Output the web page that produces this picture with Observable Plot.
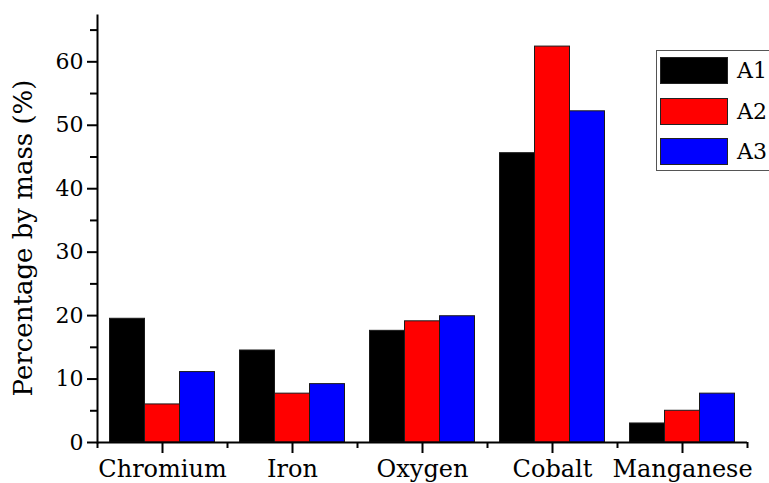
<!DOCTYPE html>
<html>
<head>
<meta charset="utf-8">
<script src="https://cdn.jsdelivr.net/npm/d3@7"></script>
<script src="https://cdn.jsdelivr.net/npm/@observablehq/plot@0.6"></script>
<style>
  html, body { margin: 0; padding: 0; background: #fff; overflow: hidden; }
  #wrap { position: relative; width: 769px; height: 483px; overflow: hidden; }
  #legend { position: absolute; left: 656px; top: 50px; width: 140px; height: 121px;
    border: 1px solid #555; box-sizing: border-box; background: #fff;
    font-family: "DejaVu Serif", serif; font-size: 22px; color: #000; }
  .row { position: absolute; left: 3px; height: 29px; display: flex; align-items: center; }
  .sw { width: 68px; height: 27px; border: 1px solid #222; box-sizing: border-box; margin-right: 9px; }
</style>
</head>
<body>
<div id="wrap"><div id="legend"></div></div>
<script>
const categories = ["Chromium", "Iron", "Oxygen", "Cobalt", "Manganese"];
const seriesNames = ["A1", "A2", "A3"];
const A1 = [19.5, 14.5, 17.6, 45.6, 3.0];
const A2 = [6.0, 7.7, 19.1, 62.4, 5.0];
const A3 = [11.1, 9.2, 19.9, 52.2, 7.7];
const colors = ["#000000", "#ff0000", "#0000ff"];
const majorTicks = [0, 10, 20, 30, 40, 50, 60];
const minorTicks = [5, 15, 25, 35, 45, 55, 65];
const yLabel = "Percentage by mass (%)";

const seriesValues = [A1, A2, A3];
const data = [];
seriesNames.forEach((s, si) => categories.forEach((c, ci) => data.push({category: c, series: s, value: seriesValues[si][ci]})));

const width = 769, height = 483;
const marginLeft = 97, marginRight = 22, marginTop = 15, marginBottom = 41;
const band = (width - marginLeft - marginRight) / categories.length;
const outer = 12.5;
const barW = (band - 2 * outer) / seriesNames.length;

const barMarks = seriesNames.map((s, i) => Plot.barY(data.filter(d => d.series === s), {
  x: "category", y: "value", fill: colors[i], stroke: "#1a1a1a", strokeWidth: 1,
  insetLeft: outer + i * barW, insetRight: outer + (seriesNames.length - 1 - i) * barW
}));

const chart = Plot.plot({
  width, height, marginLeft, marginRight, marginTop, marginBottom,
  style: {fontFamily: "DejaVu Serif, serif", background: "transparent", color: "#000", overflow: "visible"},
  x: {domain: categories, padding: 0, label: null, axis: null},
  y: {domain: [0, 67.3], label: null, axis: null},
  marks: [
    ...barMarks,
    Plot.ruleY([0], {stroke: "#000", strokeWidth: 2}),
    Plot.frame({anchor: "left", stroke: "#000", strokeWidth: 2}),
    Plot.axisY({ticks: majorTicks, tickSize: 10, tickPadding: 4, strokeWidth: 2, fontSize: 22, label: null}),
    Plot.axisY({ticks: minorTicks, tickSize: 7, text: null, strokeWidth: 2, label: null}),
    Plot.axisX({tickSize: 11, tickPadding: 6, strokeWidth: 2, fontSize: 24, label: null}),
    Plot.axisX({tickSize: 6, text: null, strokeWidth: 2, dx: -band / 2, label: null}),
    Plot.axisX({ticks: [categories[categories.length - 1]], tickSize: 6, text: null, strokeWidth: 2, dx: band / 2, label: null}),
    Plot.text([yLabel], {frameAnchor: "left", textAnchor: "middle", rotate: -90, dx: -74, dy: 9, fontSize: 26, text: d => d, fill: "#000"})
  ]
});
document.getElementById("wrap").prepend(chart);

const legend = document.getElementById("legend");
seriesNames.forEach((s, i) => {
  const row = document.createElement("div");
  row.className = "row";
  row.style.top = (5 + i * 40.5) + "px";
  const sw = document.createElement("div");
  sw.className = "sw";
  sw.style.background = colors[i];
  row.appendChild(sw);
  row.appendChild(document.createTextNode(s));
  legend.appendChild(row);
});
</script>
</body>
</html>
